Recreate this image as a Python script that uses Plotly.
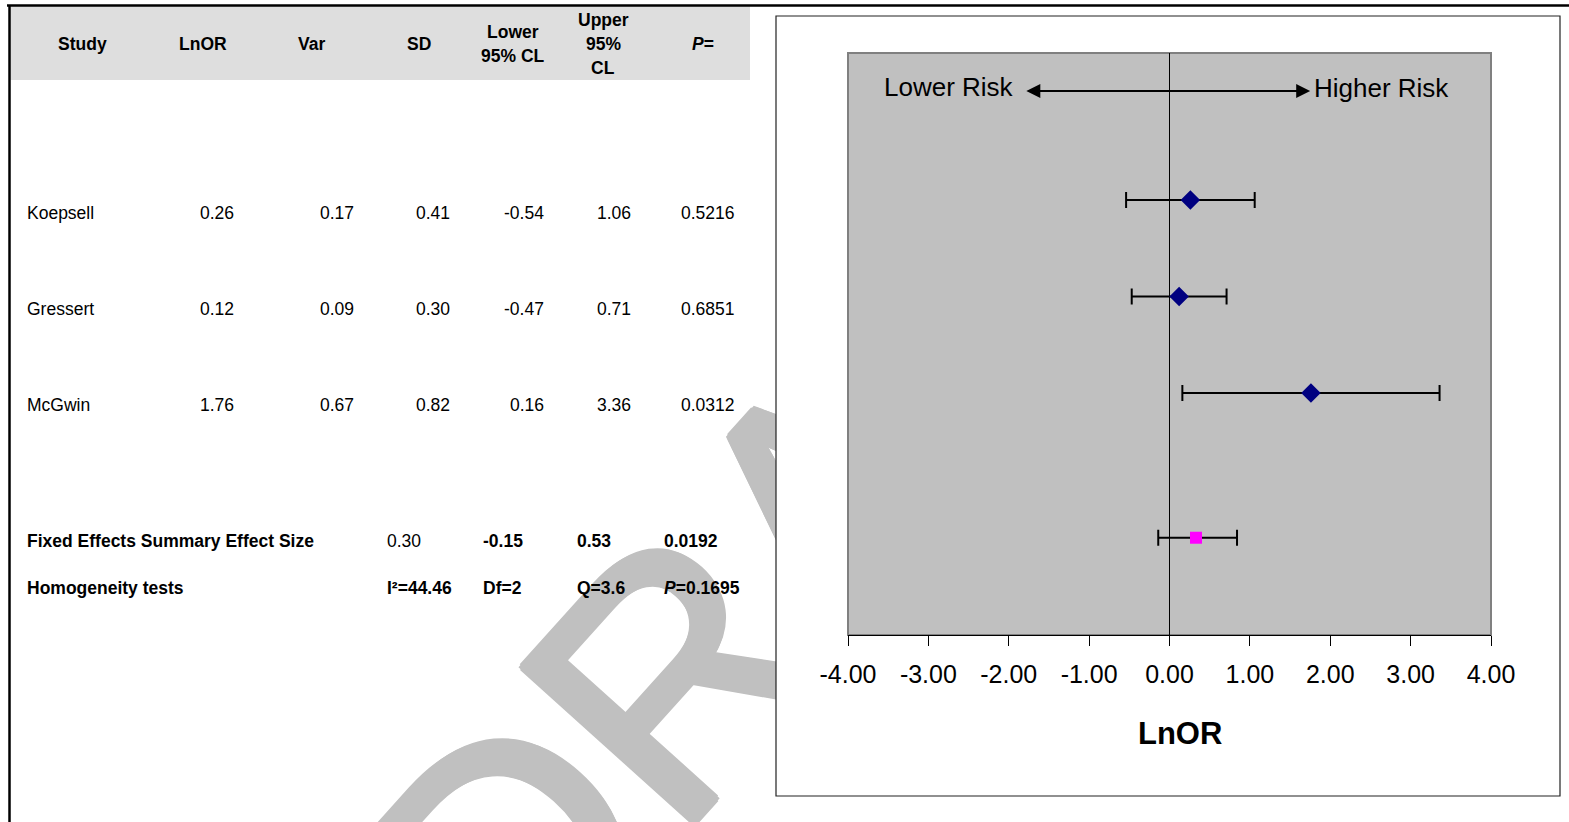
import plotly.graph_objects as go

W, H = 1569, 822

# ---------------- data ----------------
studies = ["Koepsell", "Gressert", "McGwin"]
lnor = [0.26, 0.12, 1.76]
var = [0.17, 0.09, 0.67]
sd = [0.41, 0.30, 0.82]
lower_cl = [-0.54, -0.47, 0.16]
upper_cl = [1.06, 0.71, 3.36]
p_values = ["0.5216", "0.6851", "0.0312"]

summary_label = "Fixed Effects Summary Effect Size"
summary_point = 0.33
summary_lower = -0.14
summary_upper = 0.84
summary_cells = ["0.30", "-0.15", "0.53", "0.0192"]

homog_label = "Homogeneity tests"
homog_cells = ["I²=44.46", "Df=2", "Q=3.6", "<i>P</i>=0.1695"]

header_cols = [["Study"], ["LnOR"], ["Var"], ["SD"], ["Lower", "95% CL"],
               ["Upper", "95%", "CL"], ["<i>P</i>="]]

x_ticks = [-4, -3, -2, -1, 0, 1, 2, 3, 4]
x_tick_text = [f"{v:.2f}" for v in x_ticks]
axis_title = "LnOR"
watermark = "DRAFT"

# ---------------- layout helpers ----------------
def px(x):
    return x / W

def py(y):
    return 1 - y / H

FONT = "Liberation Sans, Arial, sans-serif"

# plot-area geometry (pixels)
PL, PR, PT, PB = 848, 1491, 53, 635
row_pos = [1, 2, 3]
summary_pos = 4.5
y_range = [5.508, -0.523]

fig = go.Figure()

# study points
fig.add_trace(go.Scatter(
    x=lnor, y=row_pos, mode="markers",
    marker=dict(symbol="diamond", size=15, color="#000080"),
    error_x=dict(type="data", symmetric=False,
                 array=[u - m for u, m in zip(upper_cl, lnor)],
                 arrayminus=[m - l for m, l in zip(lnor, lower_cl)],
                 color="black", thickness=2, width=8),
    showlegend=False, hoverinfo="skip"))

# summary point
fig.add_trace(go.Scatter(
    x=[summary_point], y=[summary_pos], mode="markers",
    marker=dict(symbol="square", size=12, color="#FF00FF"),
    error_x=dict(type="data", symmetric=False,
                 array=[summary_upper - summary_point],
                 arrayminus=[summary_point - summary_lower],
                 color="black", thickness=2, width=8),
    showlegend=False, hoverinfo="skip"))

shapes = []
# watermark (behind everything)
wcx, wcy = 778, 507
wm_shadow = ", ".join(f"{dx}px {dy}px 0 #C0C0C0" for dx, dy in
                      [(4, 0), (-4, 0), (0, 4), (0, -4), (3, 3), (-3, 3), (3, -3), (-3, -3)])
shapes.append(dict(type="rect", xref="paper", yref="paper", layer="below",
                   x0=px(wcx - 1), x1=px(wcx + 1), y0=py(wcy + 1), y1=py(wcy - 1),
                   line=dict(width=0), fillcolor="rgba(0,0,0,0)",
                   label=dict(text=watermark, textangle=-48, textposition="middle center",
                              font=dict(family="Liberation Sans, Arial", size=336,
                                        color="#C0C0C0", shadow=wm_shadow))))
# table header band
shapes.append(dict(type="rect", xref="paper", yref="paper", layer="below",
                   x0=px(10), x1=px(750), y0=py(80), y1=py(6),
                   line=dict(width=0), fillcolor="#DEDEDE"))
# chart frame
shapes.append(dict(type="rect", xref="paper", yref="paper", layer="below",
                   x0=px(776), x1=px(1560), y0=py(796), y1=py(16),
                   line=dict(color="#222222", width=1.2), fillcolor="white"))
# gray plot area
shapes.append(dict(type="rect", xref="x domain", yref="y domain", layer="below",
                   x0=0, x1=1, y0=0, y1=1,
                   line=dict(color="#808080", width=2), fillcolor="#C0C0C0"))
# outer border lines
shapes.append(dict(type="line", xref="paper", yref="paper", layer="above",
                   x0=px(7), x1=1, y0=py(5.5), y1=py(5.5),
                   line=dict(color="black", width=2.5)))
shapes.append(dict(type="line", xref="paper", yref="paper", layer="above",
                   x0=px(9.5), x1=px(9.5), y0=py(5), y1=0,
                   line=dict(color="black", width=2.5)))

ann = []
# arrow and risk labels
ann.append(dict(x=1.75, y=-0.13, xref="x", yref="y", ax=-1.80, ay=-0.13,
                axref="x", ayref="y", text="", showarrow=True,
                arrowside="end+start", arrowhead=2, startarrowhead=2,
                arrowsize=1.4, startarrowsize=1.4, arrowwidth=2, arrowcolor="black"))
ann.append(dict(x=px(882), y=py(87), xref="paper", yref="paper", text="Lower Risk",
                xanchor="left", yanchor="middle", showarrow=False,
                font=dict(family=FONT, size=26, color="black")))
ann.append(dict(x=px(1312), y=py(88), xref="paper", yref="paper", text="Higher Risk",
                xanchor="left", yanchor="middle", showarrow=False,
                font=dict(family=FONT, size=26, color="black")))
ann.append(dict(x=px(1180), y=py(733), xref="paper", yref="paper", text="<b>" + axis_title + "</b>",
                xanchor="center", yanchor="middle", showarrow=False,
                font=dict(family=FONT, size=31, color="black")))

# table header
TF = 17.5
hdr_x = [82, 203, 311, 419, 513, 603, 703]
for cx, lines in zip(hdr_x, header_cols):
    n = len(lines)
    ys = {1: [44], 2: [32, 56], 3: [20, 44, 68]}[n]
    for yy, t in zip(ys, lines):
        ann.append(dict(x=px(cx), y=py(yy), xref="paper", yref="paper",
                        text="<b>" + t + "</b>", xanchor="center", yanchor="middle",
                        showarrow=False, font=dict(family=FONT, size=TF, color="black")))

# study rows
row_y = [213, 309, 405]
col_right = [236, 356, 452, 546, 633, 737]
for i, name in enumerate(studies):
    yy = row_y[i]
    ann.append(dict(x=px(25), y=py(yy), xref="paper", yref="paper", text=name,
                    xanchor="left", yanchor="middle", showarrow=False,
                    font=dict(family=FONT, size=TF, color="black")))
    vals = [f"{lnor[i]:.2f}", f"{var[i]:.2f}", f"{sd[i]:.2f}",
            f"{lower_cl[i]:.2f}", f"{upper_cl[i]:.2f}", p_values[i]]
    for xr, v in zip(col_right, vals):
        ann.append(dict(x=px(xr), y=py(yy), xref="paper", yref="paper", text=v,
                        xanchor="right", yanchor="middle", showarrow=False,
                        font=dict(family=FONT, size=TF, color="black")))

# summary rows
sum_left = [385, 481, 575, 662]
ann.append(dict(x=px(25), y=py(541), xref="paper", yref="paper", text="<b>" + summary_label + "</b>",
                xanchor="left", yanchor="middle", showarrow=False,
                font=dict(family=FONT, size=TF, color="black")))
for j, (xl, v) in enumerate(zip(sum_left, summary_cells)):
    t = v if j == 0 else "<b>" + v + "</b>"
    ann.append(dict(x=px(xl), y=py(541), xref="paper", yref="paper", text=t,
                    xanchor="left", yanchor="middle", showarrow=False,
                    font=dict(family=FONT, size=TF, color="black")))
ann.append(dict(x=px(25), y=py(588), xref="paper", yref="paper", text="<b>" + homog_label + "</b>",
                xanchor="left", yanchor="middle", showarrow=False,
                font=dict(family=FONT, size=TF, color="black")))
for xl, v in zip(sum_left, homog_cells):
    ann.append(dict(x=px(xl), y=py(588), xref="paper", yref="paper", text="<b>" + v + "</b>",
                    xanchor="left", yanchor="middle", showarrow=False,
                    font=dict(family=FONT, size=TF, color="black")))

fig.update_layout(
    width=W, height=H, margin=dict(l=0, r=0, t=0, b=0),
    paper_bgcolor="white", plot_bgcolor="rgba(0,0,0,0)",
    shapes=shapes, annotations=ann, showlegend=False,
    xaxis=dict(domain=[px(PL), px(PR)], range=[-4, 4], tickvals=x_ticks,
               ticktext=x_tick_text, tickangle=0, showgrid=False, zeroline=True,
               zerolinecolor="black", zerolinewidth=1,
               showline=True, linecolor="black", linewidth=1,
               ticks="outside", ticklen=10, tickwidth=1, tickcolor="black",
               ticklabelstandoff=7, automargin=False,
               tickfont=dict(family=FONT, size=25, color="black"),
               fixedrange=True),
    yaxis=dict(domain=[py(PB), py(PT)], range=y_range, visible=False, fixedrange=True),
)

css_js = """
var st = document.createElement('style');
st.innerHTML = 'html,body{margin:0 !important;padding:0 !important;overflow:hidden !important;}' +
               '.main-svg{overflow:hidden !important;}' +
               '.plotly-graph-div{overflow:hidden !important;}';
document.head.appendChild(st);
"""

fig.write_html("out.html", config={"displayModeBar": False}, post_script=css_js)
